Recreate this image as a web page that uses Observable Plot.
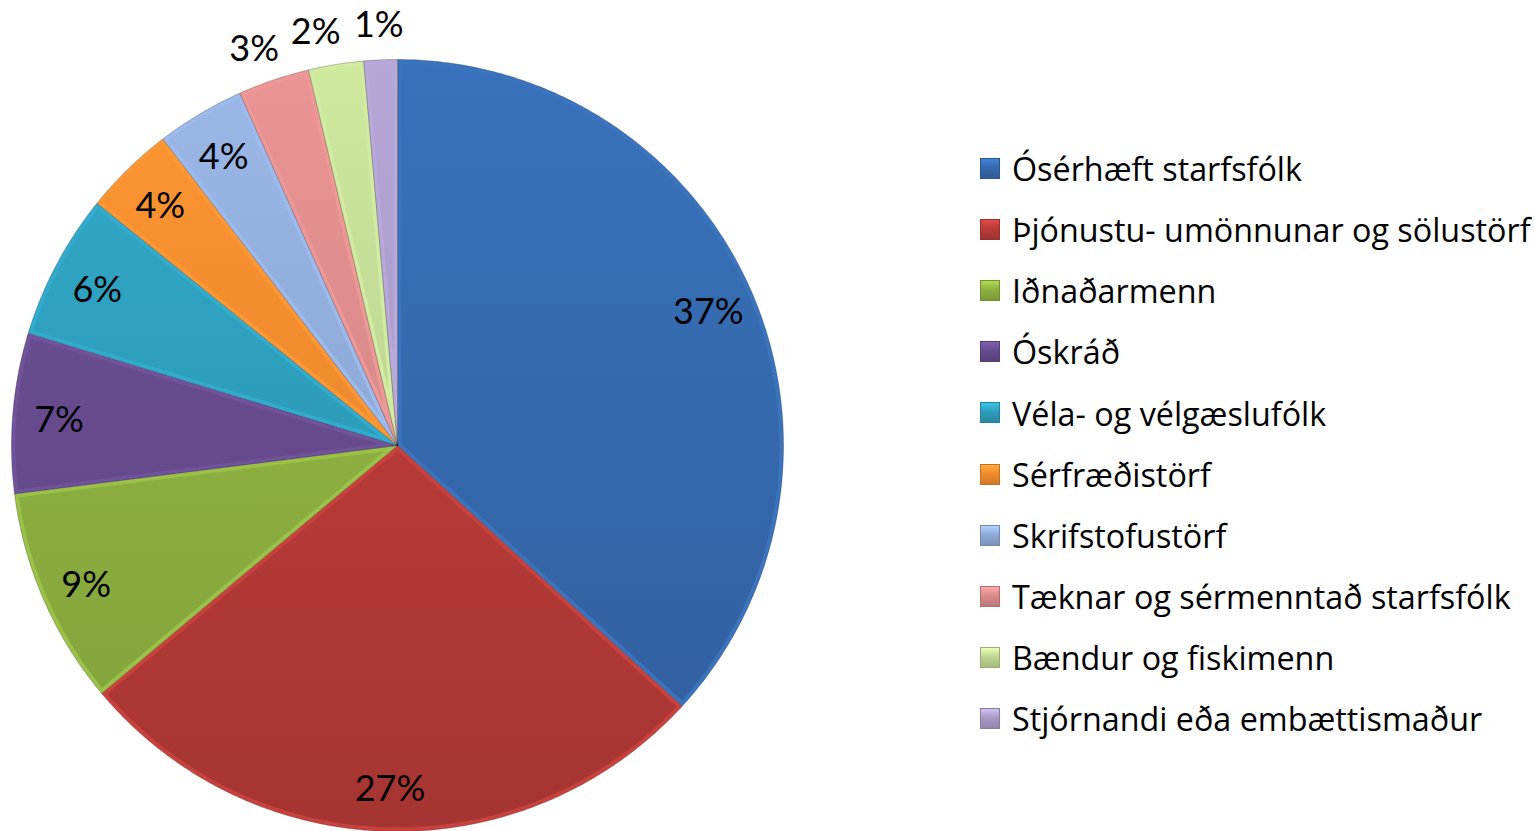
<!DOCTYPE html>
<html><head><meta charset="utf-8">
<script src="https://cdn.jsdelivr.net/npm/d3@7"></script>
<script src="https://cdn.jsdelivr.net/npm/@observablehq/plot@0.6"></script>
<style>
body{margin:0;background:#fff;font-family:"Open Sans",Lato,sans-serif;}
#wrap{position:relative;width:1535px;height:831px;overflow:hidden;background:#fff}
#chart{position:absolute;left:0;top:0}
#legend{position:absolute;left:980px;top:138px}
.item{display:flex;align-items:center;height:61.1px}
.sw{width:20px;height:21px;margin-right:12px;box-sizing:border-box}
.lbl{font-size:32.3px;color:#000;white-space:nowrap;line-height:1.2;font-family:"Open Sans",sans-serif}
</style></head><body><div id="wrap"><div id="chart"></div><div id="legend"></div></div>
<script>
// ---- data ----
const categories = ["Ósérhæft starfsfólk","Þjónustu- umönnunar og sölustörf","Iðnaðarmenn","Óskráð","Véla- og vélgæslufólk","Sérfræðistörf","Skrifstofustörf","Tæknar og sérmenntað starfsfólk","Bændur og fiskimenn","Stjórnandi eða embættismaður"];
const shares = [36.8, 27.1, 9.1, 6.7, 6.1, 3.8, 3.7, 3.0, 2.3, 1.4];
const labels = ["37%","27%","9%","7%","6%","4%","4%","3%","2%","1%"];
const colors = ["#3569AE","#B83B38","#8DB141","#674B8E","#2E9DBC","#F08B2E","#8FAAD8","#D98A89","#BFD793","#A99AC7"];

// ---- layout ----
const W = 800, H = 831, CX = 397, CY = 445, R = 386;
const BEVEL = 4 / R;           // rim width in unit radius
const INSIDE = 0.88, OUTSIDE = 1.1;
const MIN_SEP = 8.6 * Math.PI / 180; // min angular gap between outside labels

const rows = categories.map((c, i) => ({cat: c, share: shares[i], label: labels[i], color: colors[i], i}));
const arcs = d3.pie().sort(null).value(d => d.share)(rows);

function wedge(a0, a1, inset) {
  const pts = [];
  const half = (a1 - a0) / 2, mid = (a0 + a1) / 2;
  const apex = inset ? inset / Math.sin(Math.min(half, Math.PI / 2)) : 0;
  pts.push([apex * Math.sin(mid), apex * Math.cos(mid)]);
  const ro = 1 - inset;
  const da = inset ? Math.asin(inset / ro) : 0;
  const b0 = a0 + da, b1 = a1 - da;
  const n = Math.max(2, Math.ceil((b1 - b0) / (Math.PI / 360)));
  for (let k = 0; k <= n; ++k) {
    const a = b0 + (b1 - b0) * k / n;
    pts.push([ro * Math.sin(a), ro * Math.cos(a)]);
  }
  return pts;
}

const outer = [], inner = [];
arcs.forEach((a, j) => {
  const rim = d3.color(a.data.color).brighter(0.25).formatHex();
  wedge(a.startAngle, a.endAngle, 0).forEach(([x, y]) => outer.push({id: j, x, y, fill: rim}));
  wedge(a.startAngle, a.endAngle, BEVEL).forEach(([x, y]) => inner.push({id: j, x, y, fill: `url(#pg${j})`}));
});

// label angles: inside at mid-angle, small slices outside with simple collision avoidance
const labelRows = [];
let prevAngle = Infinity;
for (let j = arcs.length - 1; j >= 0; --j) {
  const a = arcs[j];
  let mid = (a.startAngle + a.endAngle) / 2;
  const outside = a.data.share < 3.5;
  if (outside) { mid = Math.min(mid, prevAngle - MIN_SEP); prevAngle = mid; }
  const r = outside ? OUTSIDE : INSIDE;
  labelRows.unshift({x: r * Math.sin(mid), y: r * Math.cos(mid), text: a.data.label});
}

const svg = Plot.plot({
  width: W, height: H, margin: 0,
  x: {domain: [-CX / R, (W - CX) / R], axis: null},
  y: {domain: [-(H - CY) / R, CY / R], axis: null},
  color: {type: "identity"},
  style: {background: "white"},
  marks: [
    Plot.line(outer, {x: "x", y: "y", z: "id", fill: "fill", stroke: "#000", strokeOpacity: 0.3, strokeWidth: 0.8, curve: "linear-closed"}),
    Plot.line(inner, {x: "x", y: "y", z: "id", fill: "fill", stroke: "none", curve: "linear-closed"}),
    Plot.text(labelRows, {x: "x", y: "y", text: "text", fontSize: 36, fontFamily: "Lato", fill: "#000", dy: 4})
  ]
});

// gradients (lighter top -> darker bottom across the pie)
const yScale = svg.scale("y");
const yTop = yScale.apply(1), yBot = yScale.apply(-1);
const defs = d3.select(svg).insert("defs", ":first-child");
arcs.forEach((a, j) => {
  const g = defs.append("linearGradient").attr("id", `pg${j}`)
    .attr("gradientUnits", "userSpaceOnUse").attr("x1", 0).attr("x2", 0).attr("y1", yTop).attr("y2", yBot);
  g.append("stop").attr("offset", 0).attr("stop-color", d3.color(a.data.color).brighter(0.22).formatHex());
  g.append("stop").attr("offset", 1).attr("stop-color", d3.color(a.data.color).darker(0.3).formatHex());
});
document.getElementById("chart").appendChild(svg);

// legend
const lg = d3.select("#legend");
rows.forEach(r => {
  const it = lg.append("div").attr("class", "item");
  const c = d3.color(r.color);
  it.append("div").attr("class", "sw")
    .style("background", `linear-gradient(to bottom, ${c.brighter(0.6).formatHex()} 0%, ${c.formatHex()} 45%, ${c.darker(0.4).formatHex()} 100%)`)
    .style("border", `1px solid ${c.darker(0.6).formatHex()}`);
  it.append("div").attr("class", "lbl").text(r.cat);
});
</script></body></html>
